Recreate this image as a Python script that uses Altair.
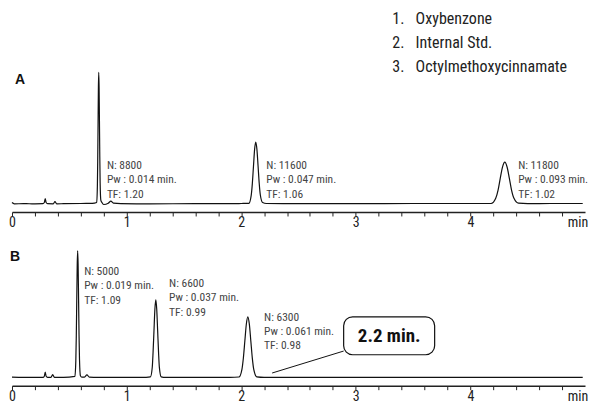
import altair as alt
import pandas as pd

FONT = "Roboto Condensed, Liberation Sans Narrow, Roboto, sans-serif"
BOLD_FONT = "Liberation Sans, Arial, sans-serif"

# ---- Chromatogram A (trace: time in min, signal in detector units) ----
A_TIME = [0.0, 0.02, 0.1, 0.2, 0.27, 0.282, 0.29, 0.298, 0.31, 0.36, 0.375, 0.39, 0.45, 0.6, 0.7,
          0.739, 0.745, 0.748, 0.751, 0.754, 0.757, 0.760, 0.763, 0.766, 0.769, 0.775, 0.785,
          0.80, 0.84, 0.863, 0.885, 0.95, 1.2, 1.6, 1.9, 2.0,
          2.067, 2.087, 2.097, 2.107, 2.117, 2.127, 2.137, 2.147, 2.157, 2.167, 2.187, 2.22,
          2.5, 3.0, 3.5, 4.0,
          4.18, 4.221, 4.241, 4.26, 4.28, 4.30, 4.32, 4.34, 4.359, 4.379, 4.42, 4.5, 4.7, 4.98]
A_SIGNAL = [1.5, 0.2, 0.3, 0.2, 0.3, 1.5, 5.5, 1.5, 0.3, 0.2, 2.5, 0.2, 0.3, 0.5, 0.6,
            1.5, 17.8, 42.9, 80.1, 116.4, 132, 117, 84, 48, 22, 4, 1.5,
            -0.5, 0.8, 2.8, 0.8, 0.3, 0.2, 0.3, 0.3, 0.5,
            0.7, 8.4, 20.2, 37.6, 54.7, 62, 55, 38.5, 21, 9, 1.5, 0.5,
            0.4, 0.3, 0.5, 0.5,
            0.5, 5.7, 13.7, 25.5, 37, 42, 37.1, 25.7, 13.9, 5.9, 0.8, 0.4, 0.5, 0.5]

# ---- Chromatogram B ----
B_TIME = [0.0, 0.1, 0.2, 0.27, 0.282, 0.29, 0.298, 0.31, 0.34, 0.355, 0.37, 0.45,
          0.549, 0.557, 0.561, 0.565, 0.569, 0.573, 0.577, 0.581, 0.585, 0.589, 0.597, 0.61,
          0.63, 0.654, 0.675, 0.75, 0.9, 1.1, 1.17,
          1.208, 1.224, 1.231, 1.239, 1.247, 1.255, 1.263, 1.271, 1.279, 1.286, 1.302,
          1.34, 1.6, 1.9,
          1.98, 2.006, 2.019, 2.032, 2.045, 2.058, 2.071, 2.084, 2.097, 2.11, 2.136,
          2.2, 2.5, 3.0, 3.5, 4.0, 4.5, 4.98]
B_SIGNAL = [0.5, 0.3, 0.4, 0.3, 1.5, 5.5, 1.5, 0.4, 0.4, 3, 0.4, 0.3,
            1.4, 17.1, 41.3, 77.1, 112, 127, 113, 79, 43, 18.5, 2, 0.5,
            0.5, 2.8, 0.6, 0.3, 0.3, 0.3, 0.4,
            0.9, 10.5, 25.4, 47.3, 68.8, 78, 68.6, 47, 25, 10.3, 0.9,
            0.3, 0.3, 0.4,
            0.7, 8.2, 19.8, 37, 53.8, 61, 53.6, 36.8, 19.6, 8, 0.8,
            0.3, 0.3, 0.4, 0.3, 0.4, 0.3, 0.3]

# ---- Peak annotations ----
A_NOTE_T = [0.828, 2.219, 4.417]
A_NOTE_S = [38.5, 38.5, 38.5]
A_NOTES = [["N: 8800", "Pw : 0.014 min.", "TF: 1.20"],
           ["N: 11600", "Pw : 0.047 min.", "TF: 1.06"],
           ["N: 11800", "Pw : 0.093 min.", "TF: 1.02"]]
B_NOTE_T = [0.630, 1.371, 2.200]
B_NOTE_S = [105.7, 93.7, 60]
B_NOTES = [["N: 5000", "Pw : 0.019 min.", "TF: 1.09"],
           ["N: 6600", "Pw : 0.037 min.", "TF: 0.99"],
           ["N: 6300", "Pw : 0.061 min.", "TF: 0.98"]]

LEGEND_NUM = ["1.", "2.", "3."]
LEGEND_NAME = ["Oxybenzone", "Internal Std.", "Octylmethoxycinnamate"]
LEGEND_S = [185.7, 161.3, 137.3]

CALLOUT_TEXT = ["2.2 min."]

TICKS = [0, 0.2, 0.4, 0.6, 0.8, 1, 1.2, 1.4, 1.6, 1.8, 2, 2.2, 2.4, 2.6, 2.8, 3,
         3.2, 3.4, 3.6, 3.8, 4, 4.2, 4.4, 4.6, 4.8, 4.935]

W = 574


def x_enc(field="t"):
    return alt.X(f"{field}:Q",
                 scale=alt.Scale(domain=[0, 5], nice=False, zero=False),
                 axis=alt.Axis(values=TICKS, title=None, grid=False,
                               labelExpr="datum.value >= 4.9 ? 'min' : (abs(datum.value - round(datum.value)) < 0.001 ? format(datum.value, 'd') : '')",
                               tickSize=4, tickColor="#222", tickWidth=1,
                               tickOpacity={"condition": {"test": "datum.value >= 4.9", "value": 0}, "value": 1},
                               domainColor="#222", domainWidth=1.5,
                               labelFont=FONT, labelFontSize=14, labelColor="#222",
                               labelPadding=0, labelOverlap=False, labelFlush=False))


def y_enc(dom, field="s"):
    return alt.Y(f"{field}:Q", scale=alt.Scale(domain=dom, nice=False, zero=False), axis=None)


def note_frame(ts, ss, notes, step):
    rows = []
    for t, s, lines in zip(ts, ss, notes):
        for i, line in enumerate(lines):
            rows.append({"t": t, "s": s - i * step, "txt": line})
    return pd.DataFrame(rows)


def panel(times, signals, dom, height, notes_df, letter, letter_t, letter_s, extras):
    trace = alt.Chart(pd.DataFrame({"t": times, "s": signals})).mark_line(
        color="#111", strokeWidth=1.2, interpolate="monotone"
    ).encode(x=x_enc(), y=y_enc(dom))
    notes = alt.Chart(notes_df).mark_text(
        align="left", baseline="middle", font=FONT, fontSize=11.5, color="#444"
    ).encode(x=x_enc(), y=y_enc(dom), text="txt:N")
    lab = alt.Chart(pd.DataFrame({"t": [letter_t], "s": [letter_s], "txt": [letter]})).mark_text(
        align="left", baseline="middle", font=BOLD_FONT, fontSize=14, fontWeight="bold", color="#111"
    ).encode(x=x_enc(), y=y_enc(dom), text="txt:N")
    layers = [trace, notes, lab] + [e(dom) for e in extras]
    return alt.layer(*layers).properties(width=W, height=height)


def legend_layers(dom):
    df = pd.DataFrame({"t": [3.319] * 3, "t2": [3.522] * 3, "s": LEGEND_S,
                       "num": LEGEND_NUM, "name": LEGEND_NAME})
    base = alt.Chart(df)
    num = base.mark_text(align="left", baseline="middle", font=FONT, fontSize=16, color="#222").encode(
        x=x_enc(), y=y_enc(dom), text="num:N")
    name = base.mark_text(align="left", baseline="middle", font=FONT, fontSize=16, color="#222").encode(
        x=x_enc("t2"), y=y_enc(dom), text="name:N")
    return alt.layer(num, name)


def callout_layers(dom):
    box = alt.Chart(pd.DataFrame({"t": [2.894], "t2": [3.688], "s": [23], "s2": [61]})).mark_rect(
        cornerRadius=9, fill="white", stroke="#111", strokeWidth=1.2
    ).encode(x=x_enc(), x2="t2:Q", y=y_enc(dom), y2="s2:Q")
    line = alt.Chart(pd.DataFrame({"t": [2.27], "t2": [2.894], "s": [4.7], "s2": [26.7]})).mark_rule(
        color="#111", strokeWidth=1
    ).encode(x=x_enc(), x2="t2:Q", y=y_enc(dom), y2="s2:Q")
    txt = alt.Chart(pd.DataFrame({"t": [3.291], "s": [42], "txt": CALLOUT_TEXT})).mark_text(
        align="center", baseline="middle", font=FONT,
        fontSize=19, fontWeight="bold", color="#111"
    ).encode(x=x_enc(), y=y_enc(dom), text="txt:N")
    return alt.layer(line, box, txt)


A_DOM = [-8, 196]
B_DOM = [-8, 142]

panel_a = panel(A_TIME, A_SIGNAL, A_DOM, 204, note_frame(A_NOTE_T, A_NOTE_S, A_NOTES, 14.5),
                "A", 0.026, 124, [legend_layers])
panel_b = panel(B_TIME, B_SIGNAL, B_DOM, 150, note_frame(B_NOTE_T, B_NOTE_S, B_NOTES, 14.2),
                "B", -0.017, 120.5, [callout_layers])

chart = alt.vconcat(panel_a, panel_b, spacing=6).properties(
    padding={"left": 0, "right": 0, "top": 0, "bottom": 0},
    background="white"
).configure_view(stroke=None)

chart.save("out.html", embed_options={"renderer": "svg", "actions": False})
